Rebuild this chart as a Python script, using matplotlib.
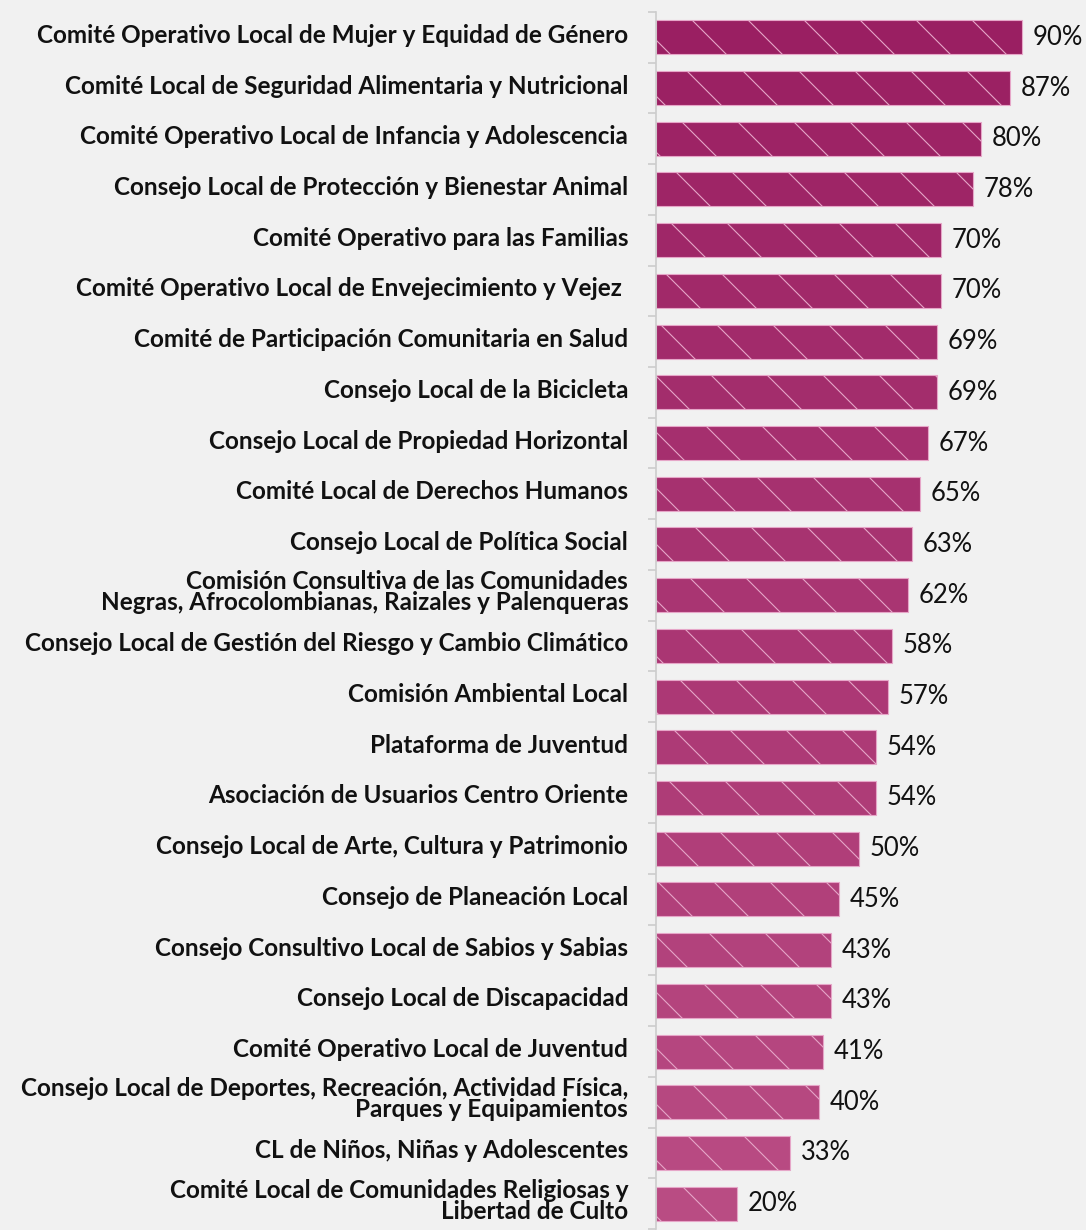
import matplotlib.pyplot as plt
import matplotlib.colors as mcolors
import matplotlib.transforms as mtransforms
import numpy as np

# Data
categories = [
    'Comité Operativo Local de Mujer y Equidad de Género',
    'Comité Local de Seguridad Alimentaria y Nutricional',
    'Comité Operativo Local de Infancia y Adolescencia',
    'Consejo Local de Protección y Bienestar Animal',
    'Comité Operativo para las Familias',
    'Comité Operativo Local de Envejecimiento y Vejez ',
    'Comité de Participación Comunitaria en Salud',
    'Consejo Local de la Bicicleta',
    'Consejo Local de Propiedad Horizontal',
    'Comité Local de Derechos Humanos',
    'Consejo Local de Política Social',
    'Comisión Consultiva de las Comunidades\nNegras, Afrocolombianas, Raizales y Palenqueras',
    'Consejo Local de Gestión del Riesgo y Cambio Climático',
    'Comisión Ambiental Local',
    'Plataforma de Juventud',
    'Asociación de Usuarios Centro Oriente',
    'Consejo Local de Arte, Cultura y Patrimonio',
    'Consejo de Planeación Local',
    'Consejo Consultivo Local de Sabios y Sabias',
    'Consejo Local de Discapacidad',
    'Comité Operativo Local de Juventud',
    'Consejo Local de Deportes, Recreación, Actividad Física,\nParques y Equipamientos',
    'CL de Niños, Niñas y Adolescentes',
    'Comité Local de Comunidades Religiosas y\nLibertad de Culto',
]
values = [90, 87, 80, 78, 70, 70, 69, 69, 67, 65, 63, 62, 58, 57, 54, 54, 50, 45, 43, 43, 41, 40, 33, 20]

# dpi picked so the hatch lines come out widely spaced like the original
DPI = 168
S = 100 / DPI  # keep sizes as if drawn at 100 dpi

plt.rcParams['hatch.color'] = '#e6a6c8'
plt.rcParams['hatch.linewidth'] = 0.8 * S

fig = plt.figure(figsize=(1086 / DPI, 1230 / DPI), dpi=DPI)
fig.patch.set_facecolor('#f1f1f1')
ax = fig.add_axes([656 / 1086, 1 / 1230, 430 / 1086, 1217 / 1230])
ax.set_facecolor('#f1f1f1')

# color fades from dark magenta to lighter pink down the list
cmap = mcolors.LinearSegmentedColormap.from_list('pk', ['#9a1f62', '#b94c83'])
n = len(values)
colors = [cmap(i / (n - 1)) for i in range(n)]

y = np.arange(n)
ax.barh(y, values, height=0.67, color=colors, edgecolor='#e6a6c8',
        linewidth=0.8 * S, hatch='\\')

for yi, v in zip(y, values):
    ax.text(v + 2.6, yi, f'{v}%', va='center', ha='left',
            fontsize=18.5 * S, family='Lato', color='#111111')

ax.set_ylim(n - 0.5, -0.5)
ax.set_xlim(0, 430 / 4.067)
ax.set_yticks(y)
ax.set_yticklabels(categories, fontsize=17.5 * S, family='Lato', fontweight='bold',
                   color='#111111', linespacing=0.9)
ax.tick_params(axis='y', which='major', length=0, pad=20 * S)
ax.set_yticks(np.arange(n + 1) - 0.5, minor=True)
ax.tick_params(axis='y', which='minor', length=6 * S, color='#cccccc', width=1.2 * S)
ax.set_xticks([])
for s in ['top', 'right', 'bottom']:
    ax.spines[s].set_visible(False)
ax.spines['left'].set_color('#cccccc')
ax.spines['left'].set_linewidth(1.2 * S)

# labels sit a few pixels above the bar centres in the original
shift = mtransforms.ScaledTranslation(0, 4 / DPI, fig.dpi_scale_trans)
for lab in ax.get_yticklabels():
    lab.set_transform(lab.get_transform() + shift)

plt.savefig('out.png', dpi=DPI, facecolor=fig.get_facecolor())
